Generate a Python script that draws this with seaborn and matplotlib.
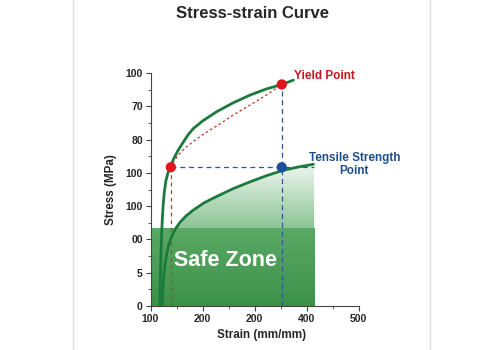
import numpy as np
import pandas as pd
import matplotlib
matplotlib.use("Agg")
import matplotlib.pyplot as plt
import seaborn as sns
from matplotlib.patches import Polygon, Rectangle
from matplotlib.colors import LinearSegmentedColormap
from matplotlib.ticker import AutoMinorLocator

# ---- data ----
upper_x = [117.9, 118.6, 119.4, 120.2, 121.2, 122.5, 124.2, 126.5, 129.5, 133.5, 138.5, 143.5,
           152.0, 162.8, 172.0, 182.1, 200.0, 227.2, 258.0, 291.3, 322.0, 352.4, 374.8]
upper_y = [0.0, 6.0, 11.0, 16.0, 21.0, 25.5, 30.0, 34.2, 37.5, 40.0, 41.9, 43.9,
           46.5, 49.2, 51.4, 53.3, 55.6, 58.4, 61.0, 63.4, 65.2, 66.6, 67.9]
lower_x = [122.4, 123.2, 124.2, 125.6, 127.5, 130.8, 135.0, 140.5, 148.0, 156.5, 168.0, 182.1,
           203.0, 227.2, 258.0, 291.3, 322.0, 355.5, 385.0, 413.3]
lower_y = [0.0, 3.0, 6.0, 9.0, 12.0, 15.3, 18.3, 20.8, 23.2, 25.1, 27.0, 28.8,
           31.0, 32.9, 35.2, 37.3, 39.1, 40.8, 41.8, 42.6]
yield_path_x = [139.1, 145.0, 156.5, 168.0, 182.1, 203.0, 227.2, 258.0, 291.3, 322.0, 352.4]
yield_path_y = [41.7, 43.6, 45.9, 47.7, 49.4, 51.8, 54.1, 57.3, 60.4, 63.3, 66.6]
yield_pts_x = [139.1, 352.4]
yield_pts_y = [41.7, 66.6]
tensile_pt_x = [352.4]
tensile_pt_y = [41.7]
safe_x = [100, 414.6]
safe_top = 23.4
x_ticks = [100, 200, 300, 400, 500]
x_labels = ['100', '200', '200', '400', '500']
y_ticks = [0, 10, 20, 30, 40, 50, 60, 70]
y_labels = ['0', '5', '00', '100', '100', '80', '70', '100']

sns.set_theme(style="ticks")
plt.rcParams['font.family'] = ['Liberation Sans', 'DejaVu Sans']

fig = plt.figure(figsize=(5, 3.5), dpi=100)
ax = fig.add_axes([0.301, 0.126, 0.416, 0.665])

# card border
fig.patches.append(Rectangle((72.5 / 500, -0.02), 357 / 500, 1.04, transform=fig.transFigure,
                             fill=False, edgecolor='#dcdcdc', linewidth=1.0, zorder=0))

green = '#1b7a3c'

# gradient under lower curve
poly_pts = list(zip(lower_x, lower_y)) + [(safe_x[1], lower_y[-1]), (safe_x[1], 0), (lower_x[0], 0)]
poly = Polygon(poly_pts, closed=True, facecolor='none', edgecolor='none')
ax.add_patch(poly)
grad = np.linspace(0, 1, 256).reshape(-1, 1)
cmap = LinearSegmentedColormap.from_list('g', [(0, '#3e944d'), (0.55, '#8cc595'), (1, '#f0f7f1')])
im = ax.imshow(grad, extent=[safe_x[0], safe_x[1], 0, 43], origin='lower', aspect='auto',
               cmap=cmap, zorder=1)
im.set_clip_path(poly)

# safe zone rectangle
rect = Rectangle((safe_x[0], 0), safe_x[1] - safe_x[0], safe_top, facecolor='none', edgecolor='none')
ax.add_patch(rect)
cmap2 = LinearSegmentedColormap.from_list('g2', ['#3c9149', '#5aa965'])
im2 = ax.imshow(grad, extent=[safe_x[0], safe_x[1], 0, safe_top], origin='lower', aspect='auto',
                cmap=cmap2, zorder=1.5)
im2.set_clip_path(rect)

# dashed guides
ax.plot([yield_pts_x[0], yield_pts_x[0]], [0, yield_pts_y[0]], ls=(0, (3, 3)), color='#c0392b', lw=0.9, zorder=3)
ax.plot([yield_pts_x[0], safe_x[1]], [yield_pts_y[0], yield_pts_y[0]], ls=(0, (4, 3)), color='#2f5597', lw=0.9, zorder=3)
ax.plot([yield_pts_x[1], yield_pts_x[1]], [0, yield_pts_y[1]], ls=(0, (4, 3)), color='#2f5597', lw=0.9, zorder=3)
sns.lineplot(x=yield_path_x, y=yield_path_y, ax=ax, color='#c0392b', lw=0.9, sort=False,
             linestyle=(0, (2, 2)), zorder=3)

# curves
sns.lineplot(x=upper_x, y=upper_y, ax=ax, color=green, lw=2.0, sort=False, zorder=4)
sns.lineplot(x=lower_x, y=lower_y, ax=ax, color=green, lw=2.0, sort=False, zorder=4)

# points
sns.scatterplot(x=yield_pts_x, y=yield_pts_y, ax=ax, color='#e3141e', s=55, edgecolor='none', zorder=5)
sns.scatterplot(x=tensile_pt_x, y=tensile_pt_y, ax=ax, color='#1f4f9c', s=55, edgecolor='none', zorder=5)

# texts
ax.text(245, 13.8, 'Safe Zone', color='white', fontsize=15.5, fontweight='bold',
        ha='center', va='center', zorder=6)
ax.text(375, 69.2, 'Yield Point', color='#c8141e', fontsize=8.5, fontweight='bold',
        ha='left', va='center', zorder=6, clip_on=False)
ax.text(492, 42.6, 'Tensile Strength\nPoint', color='#1f4e8c', fontsize=8.5, fontweight='bold',
        ha='center', va='center', zorder=6, clip_on=False, linespacing=1.1)

ax.set_xlim(100, 500)
ax.set_ylim(0, 70)
ax.set_xticks(x_ticks)
ax.set_xticklabels(x_labels)
ax.set_yticks(y_ticks)
ax.set_yticklabels(y_labels)
ax.xaxis.set_minor_locator(AutoMinorLocator(2))
ax.yaxis.set_minor_locator(AutoMinorLocator(2))
ax.tick_params(which='major', length=3.5, width=0.8, color='#444444', labelsize=7.5, pad=2)
ax.tick_params(which='minor', length=2, width=0.6, color='#444444')
for lab in ax.get_xticklabels() + ax.get_yticklabels():
    lab.set_fontweight('bold')
for s in ['top', 'right']:
    ax.spines[s].set_visible(False)
for s in ['left', 'bottom']:
    ax.spines[s].set_color('#444444')
    ax.spines[s].set_linewidth(0.8)
ax.set_facecolor('none')

ax.set_xlabel('Strain (mm/mm)', fontsize=8.4, fontweight='bold', labelpad=4)
ax.xaxis.set_label_coords(0.535, -0.1)
ax.set_ylabel('Stress (MPa)', fontsize=8.4, fontweight='bold', labelpad=6)
fig.text(0.505, 0.962, 'Stress-strain Curve', ha='center', va='center', fontsize=12, fontweight='bold')

fig.savefig('out.png', dpi=100)
